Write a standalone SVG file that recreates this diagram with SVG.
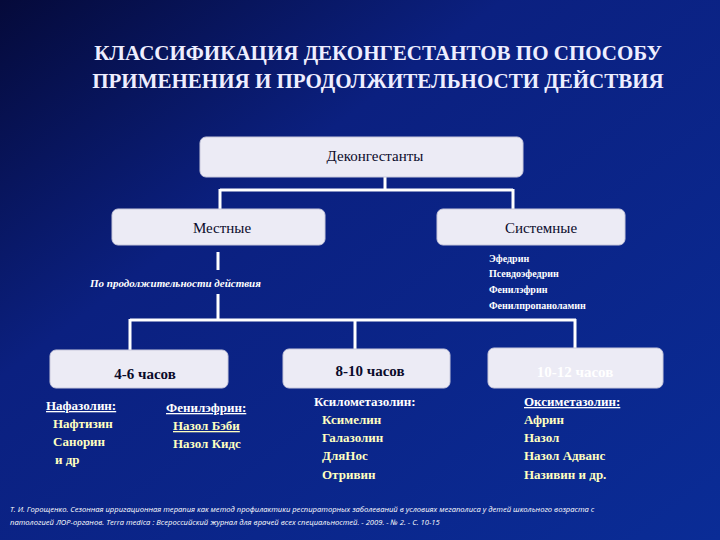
<svg xmlns="http://www.w3.org/2000/svg" width="720" height="540" viewBox="0 0 720 540">
<defs>
<linearGradient id="bg" x1="0" y1="0" x2="1" y2="1">
<stop offset="0" stop-color="#050a3a"/><stop offset="0.35" stop-color="#0b2080"/><stop offset="1" stop-color="#0a2c96"/>
</linearGradient>
<style>
text{font-family:"Liberation Serif","DejaVu Serif",serif}
.box{fill:#ecebf5;stroke:#c8c8dc;stroke-width:1}
.ln{stroke:#ffffff;stroke-width:3;fill:none}
.t{font-size:15px;fill:#0a0a2a;text-anchor:middle}
.b{font-weight:bold}
.w{fill:#ffffff}
.y{fill:#ffffc0;font-weight:bold;font-size:13px}
.u{text-decoration:underline}
text.c{font-family:"Open Sans","DejaVu Sans",sans-serif}
</style>
</defs>
<rect width="720" height="540" fill="url(#bg)"/>
<g id="title" class="b" font-size="21" fill="#eeeeff" text-anchor="middle">
<text x="378" y="60">КЛАССИФИКАЦИЯ ДЕКОНГЕСТАНТОВ ПО СПОСОБУ</text>
<text x="378" y="88">ПРИМЕНЕНИЯ И ПРОДОЛЖИТЕЛЬНОСТИ ДЕЙСТВИЯ</text>
</g>
<g id="connectors">
<path class="ln" d="M385 177V190M220 190H513M220 189V210M513 189V210"/>
<path class="ln" d="M218 252V270M218 294V321M130 320H576M130 319V350M355 319V350M575 319V350"/>
</g>
<g id="n-root"><rect class="box" x="200" y="137" width="323" height="40" rx="6"/><text class="t" x="375" y="161">Деконгестанты</text></g>
<g id="n-local"><rect class="box" x="112" y="209" width="213" height="36" rx="6"/><text class="t" x="222" y="233">Местные</text></g>
<g id="n-sys"><rect class="box" x="437" y="209" width="188" height="36" rx="6"/><text class="t" x="541" y="233">Системные</text></g>
<g id="sys-list" class="b w" font-size="10">
<text x="489" y="262">Эфедрин</text><text x="489" y="277">Псевдоэфедрин</text><text x="489" y="293">Фенилэфрин</text><text x="489" y="309">Фенилпропаноламин</text>
</g>
<text x="90" y="287" class="w b" font-size="11" font-style="italic">По продолжительности действия</text>
<g id="n-46"><rect class="box" x="50" y="350" width="178" height="38" rx="6"/><text class="t b" x="145" y="379">4-6 часов</text></g>
<g id="n-810"><rect class="box" x="283" y="349" width="167" height="39" rx="6"/><text class="t b" x="370" y="376">8-10 часов</text></g>
<g id="n-1012"><rect class="box" x="488" y="348" width="175" height="40" rx="6"/><text class="t b" x="575" y="377" style="fill:#ffffff">10-12 часов</text></g>
<g id="list1" font-size="13">
<text x="46" y="410" class="w b u">Нафазолин:</text>
<text x="53" y="428" class="y">Нафтизин</text><text x="53" y="446" class="y">Санорин</text><text x="55" y="464" class="y">и др</text>
</g>
<g id="list2" font-size="13">
<text x="166" y="412" class="w b u">Фенилэфрин:</text>
<text x="173" y="430" class="y u">Назол Бэби</text><text x="173" y="448" class="y">Назол Кидс</text>
</g>
<g id="list3" font-size="13">
<text x="314" y="406" class="w b">Ксилометазолин:</text>
<text x="322" y="424" class="y">Ксимелин</text><text x="322" y="442" class="y">Галазолин</text><text x="322" y="460" class="y">ДляНос</text><text x="322" y="479" class="y">Отривин</text>
</g>
<g id="list4" font-size="13">
<text x="524" y="406" class="w b u">Оксиметазолин:</text>
<text x="524" y="424" class="y">Африн</text><text x="524" y="442" class="y">Назол</text><text x="524" y="460" class="y">Назол Адванс</text><text x="524" y="479" class="y">Називин и др.</text>
</g>
<g id="cite" font-size="7.6" fill="#ffffff" font-style="italic">
<text class="c" x="10" y="512">Т. И. Горощенко. Сезонная ирригационная терапия как метод профилактики респираторных заболеваний в условиях мегаполиса у детей школьного возраста с</text>
<text class="c" x="10" y="525">патологией ЛОР-органов.  Terra medica : Всероссийский журнал для врачей всех специальностей. - 2009. - № 2. - С. 10-15</text>
</g>
</svg>
